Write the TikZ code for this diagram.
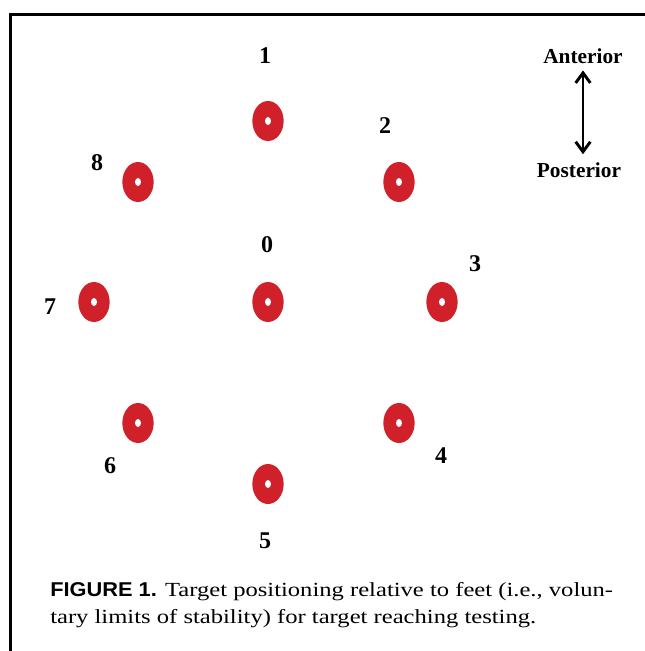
\documentclass[tikz,border=0pt]{standalone}
\usepackage{fontspec}
\setmainfont{Liberation Serif}
\newfontfamily\capserif[FakeStretch=1.23]{Liberation Serif}
\newfontfamily\capsans[FakeStretch=1.09]{Liberation Sans}
\usetikzlibrary{shapes.geometric,arrows.meta}
\definecolor{targetred}{RGB}{208,32,42}
\tikzset{
  target/.style={ellipse, fill=targetred, inner sep=0pt,
    minimum width=23.5pt, minimum height=30pt},
  bullseye/.style={ellipse, fill=white, inner sep=0pt,
    minimum width=4.5pt, minimum height=6pt},
  tlabel/.style={inner sep=0pt, font=\fontsize{18}{20}\selectfont\bfseries},
  dirlabel/.style={inner sep=0pt, font=\fontsize{16}{18}\selectfont\bfseries},
  updown/.style={line width=2.2pt, {Straight Barb[length=7.5pt,width=11pt]}-{Straight Barb[length=7.5pt,width=11pt]}},
}

\begin{document}
\begin{tikzpicture}[x=0.75pt, y=-0.75pt]
\useasboundingbox (0,0) rectangle (644,651);

% frame
\draw[line width=2.25pt] (650,14) -- (10,14) -- (10,660);

% targets
\node[target] (t0) at (268,302) {};
\node[target] (t1) at (268,121) {};
\node[target] (t2) at (399,182) {};
\node[target] (t3) at (442,302) {};
\node[target] (t4) at (399,423) {};
\node[target] (t5) at (268,484) {};
\node[target] (t6) at (138,423) {};
\node[target] (t7) at (94,302) {};
\node[target] (t8) at (138,182) {};
\foreach \t in {0,...,8}
  \node[bullseye] (c\t) at (t\t.center) {};

% numbers
\node[tlabel] (n0) at (267,245) {0};
\node[tlabel] (n1) at (265,56) {1};
\node[tlabel] (n2) at (385,126) {2};
\node[tlabel] (n3) at (475,264) {3};
\node[tlabel] (n4) at (441,456) {4};
\node[tlabel] (n5) at (265,541) {5};
\node[tlabel] (n6) at (110,466) {6};
\node[tlabel] (n7) at (50,307) {7};
\node[tlabel] (n8) at (97,163) {8};

% direction
\node[dirlabel] (ant) at (583,56) {Anterior};
\node[dirlabel] (post) at (579,170) {Posterior};
\draw[updown, shorten <=5pt, shorten >=6pt] (ant.south -| 583,0) -- (post.north -| 583,0);

% caption
\node[anchor=base west, inner sep=0pt, align=left,
  font=\fontsize{15}{20.25}\selectfont\capserif] (cap) at (50,623)
  {{\capsans\bfseries FIGURE 1.} Target positioning relative to feet (i.e., volun-\\
   tary limits of stability) for target reaching testing.};

\end{tikzpicture}
\end{document}
